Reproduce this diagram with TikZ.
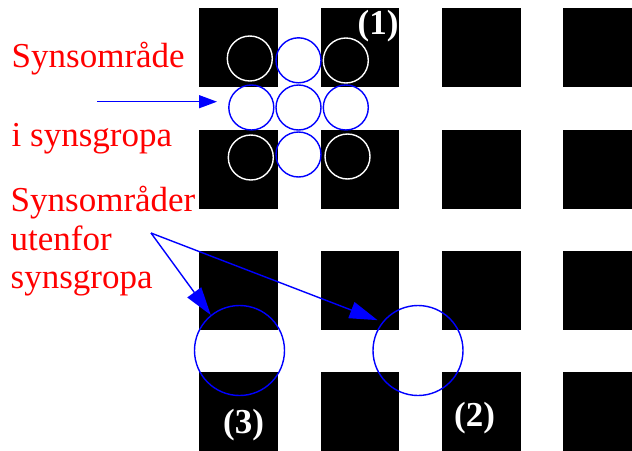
\documentclass[tikz,border=0pt]{standalone}
\usepackage{fontspec}
\setmainfont{Liberation Serif}
\usetikzlibrary{arrows.meta,calc}

\definecolor{pureblue}{RGB}{0,0,255}
\definecolor{purered}{RGB}{255,0,0}

\tikzset{
  cell/.style={fill=black, draw=none},
  ringblue/.style={circle, draw=pureblue, line width=1.4pt, inner sep=0pt, minimum size=45pt},
  ringwhite/.style={circle, draw=white, line width=1.4pt, inner sep=0pt, minimum size=45pt},
  bigring/.style={circle, draw=pureblue, line width=1.4pt, inner sep=0pt, minimum size=90pt},
  redlabel/.style={text=purered, anchor=base west, inner sep=0pt, font=\fontsize{35}{42}\selectfont},
  numlabel/.style={text=white, anchor=base, inner sep=0pt, font=\fontsize{35}{42}\selectfont\bfseries},
  pointer/.style={draw=pureblue, line width=1.4pt, -{Triangle[length=18pt,width=13pt]}},
  bigpointer/.style={draw=pureblue, line width=1.4pt, -{Triangle[length=28pt,width=17pt]}},
}

\begin{document}
\begin{tikzpicture}[x=1pt, y=-1pt]
  \useasboundingbox (0,0) rectangle (632,450);
  \clip (0,0) rectangle (632,450);

  % checkerboard of black cells
  \foreach \cx in {199,320.5,442,563}
    \foreach \cy in {8,129.5,251,372}
      \fill[cell] (\cx,\cy) rectangle ++(78.5,79);

  % receptive fields inside the fovea: 3x3 block, cross in blue, corners in white
  \node[ringblue]  (mc) at (298.5,107.5) {};
  \node[ringblue]  (mt) at (298.5,60.3)  {};
  \node[ringblue]  (mb) at (298.5,154.5) {};
  \node[ringblue]  (ml) at (251.3,107.5) {};
  \node[ringblue]  (mr) at (345.8,107.5) {};
  \node[ringwhite] (tl) at (249.8,58.5)  {};
  \node[ringwhite] (tr) at (345.8,60.5)  {};
  \node[ringwhite] (bl) at (250.8,157.5) {};
  \node[ringwhite] (br) at (347.5,156.5) {};

  % receptive fields outside the fovea
  \node[bigring] (c3) at (239.5,350.5) {};
  \node[bigring] (c2) at (418,350.5) {};

  % numbered labels
  \node[numlabel] (n1) at (378,34) {(1)};
  \node[numlabel] (n2) at (474.5,426.5) {(2)};
  \node[numlabel] (n3) at (243.5,433.5) {(3)};

  % red captions
  \node[redlabel] (l1) at (11.5,67.5)  {Synsområde};
  \node[redlabel] (l2) at (11.5,146.5) {i synsgropa};
  \node[redlabel] (l3) at (10.5,211.5) {Synsområder};
  \node[redlabel] (l4) at (10.5,250)   {utenfor};
  \node[redlabel] (l5) at (10.5,288)   {synsgropa};

  % pointers
  \coordinate (inStart) at (97,101.7);
  \coordinate (inEnd)   at (217,101.7);
  \draw[pointer] (inStart) -- (inEnd);

  \coordinate (fork) at (151,233);
  \coordinate (t2) at ($(c2.144)+(-3.5,-3.5)$);
  \draw[bigpointer] (fork) -- (c3.129);
  \draw[bigpointer] (fork) -- (t2);
\end{tikzpicture}
\end{document}
